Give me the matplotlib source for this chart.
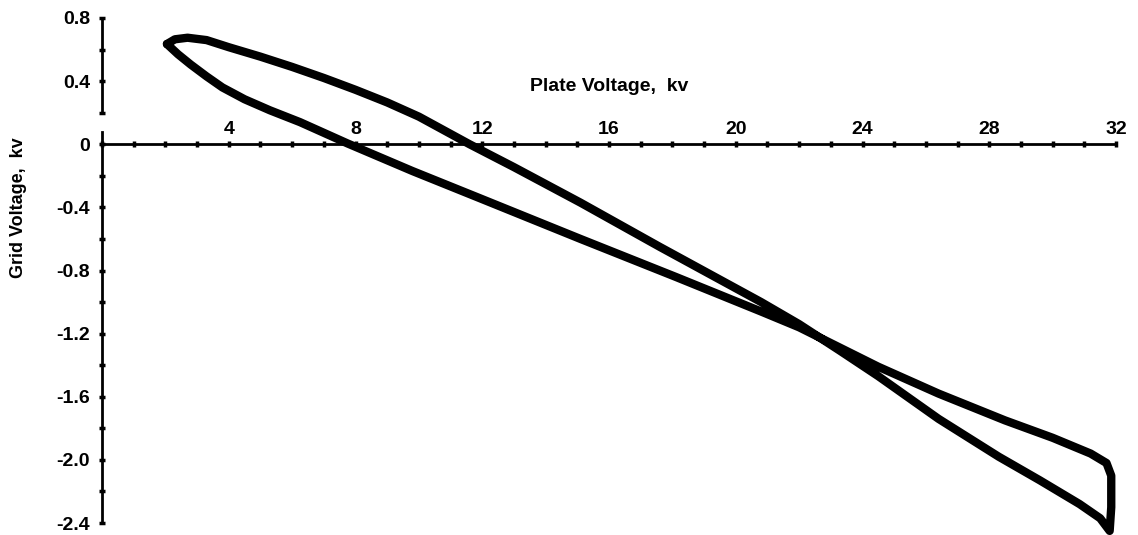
import numpy as np
import matplotlib
matplotlib.use("Agg")
import matplotlib.pyplot as plt
from matplotlib.ticker import MultipleLocator, FixedLocator

plt.rcParams['font.family'] = ['Liberation Sans', 'DejaVu Sans']
plt.rcParams['font.weight'] = 'bold'

# -------------------------------------------------------------
# Data (kv)
# -------------------------------------------------------------
# outgoing branch: from the upper-left tip down to the lower-right corner
out_x = [2.05, 2.3, 2.7, 3.3, 4.0, 5.0, 6.0, 7.0, 8.0, 9.0, 10.0, 11.6, 13.0,
         15.1, 17.6, 20.8, 22.0, 23.3, 24.5, 26.4, 28.3, 29.6, 30.85, 31.5, 31.8]
out_y = [0.635, 0.665, 0.675, 0.66, 0.615, 0.555, 0.49, 0.42, 0.345, 0.265, 0.175, 0.0, -0.145,
         -0.37, -0.65, -1.0, -1.14, -1.31, -1.47, -1.74, -1.98, -2.13, -2.28, -2.37, -2.45]
# return branch: up the right edge and back to the tip
ret_x = [31.85, 31.85, 31.7, 31.2, 30.0, 28.5, 26.4, 24.5, 23.3, 22.0, 20.8,
         18.1, 15.1, 11.9, 9.8, 7.75, 6.25, 5.3, 4.5, 3.8, 3.3, 2.8, 2.4, 2.05]
ret_y = [-2.3, -2.1, -2.02, -1.96, -1.86, -1.75, -1.58, -1.41, -1.29, -1.16, -1.06,
         -0.84, -0.60, -0.34, -0.17, 0.005, 0.14, 0.215, 0.285, 0.36, 0.43, 0.505, 0.57, 0.635]

x_ticks = [4, 8, 12, 16, 20, 24, 28, 32]
y_ticks = [0.8, 0.4, 0.0, -0.4, -0.8, -1.2, -1.6, -2.0, -2.4]
y_labels = ['0.8', '0.4', '0', '-0.4', '-0.8', '-1.2', '-1.6', '-2.0', '-2.4']

# -------------------------------------------------------------
# Figure
# -------------------------------------------------------------
fig = plt.figure(figsize=(11.38, 5.35), dpi=100)
ax = fig.add_axes([102 / 1138, 12 / 535, 1014 / 1138, 505 / 535])
ax.set_xlim(0, 32)
ax.set_ylim(-2.4, 0.8)

loop_x = out_x + ret_x
loop_y = out_y + ret_y
ax.plot(loop_x, loop_y, color='black', lw=6.0, solid_joinstyle='round',
        solid_capstyle='round', clip_on=False)

# axes drawn through the origin, x labels sitting above the line
for s in ['bottom', 'right']:
    ax.spines[s].set_visible(False)
ax.spines['top'].set_position(('data', 0))
ax.spines['left'].set_position(('data', 0))
ax.spines['top'].set_linewidth(2)
ax.spines['left'].set_linewidth(2)
ax.spines['left'].set_bounds(-2.4, 0.075)
ax.plot([0, 0], [0.2, 0.8], color='black', lw=2, clip_on=False)

ax.xaxis.tick_top()
ax.xaxis.set_major_locator(FixedLocator(x_ticks))
ax.xaxis.set_minor_locator(MultipleLocator(1))
ax.yaxis.set_major_locator(FixedLocator(y_ticks))
ax.yaxis.set_minor_locator(MultipleLocator(0.2))
ax.set_yticklabels(y_labels)
ax.tick_params(which='both', direction='inout', length=5, width=2.5, color='black')
ax.tick_params(axis='x', labelsize=14, pad=2)
ax.tick_params(axis='y', labelsize=14, pad=6)

ax.text(16.0, 0.367, 'Plate Voltage,  kv', ha='center', va='center', fontsize=14,
        fontweight='bold')
ax.text(-2.62, -0.40, 'Grid Voltage,  kv', ha='center', va='center', rotation=90,
        fontsize=13, fontweight='bold', clip_on=False)

fig.savefig('out.png', dpi=100)
